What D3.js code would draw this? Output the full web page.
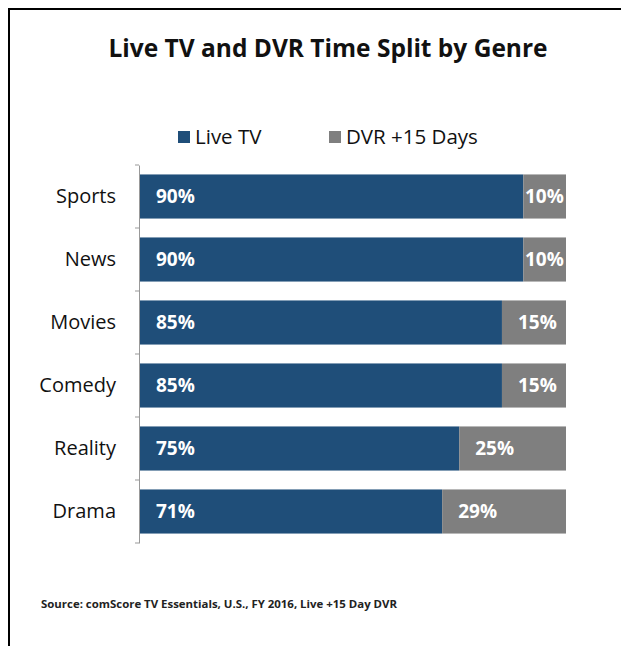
<!DOCTYPE html>
<html>
<head>
<meta charset="utf-8">
<script src="https://cdn.jsdelivr.net/npm/d3@7"></script>
<style>
  body { margin: 0; background: #fff; }
  svg { display: block; font-family: "Open Sans", sans-serif; }
</style>
</head>
<body>
<div id="chart"></div>
<script>
const genres = ["Sports", "News", "Movies", "Comedy", "Reality", "Drama"];
const liveTV = [90, 90, 85, 85, 75, 71];
const dvr15 = [10, 10, 15, 15, 25, 29];
const seriesNames = ["Live TV", "DVR +15 Days"];

const width = 621, height = 646;
const margin = {top: 165, left: 139, right: 55, bottom: 103};
const innerW = width - margin.left - margin.right;
const innerH = height - margin.top - margin.bottom;

const color = d3.scaleOrdinal()
    .domain(["live", "dvr"])
    .range(["#1f4e79", "#7f7f7f"]);

const svg = d3.select("#chart")
    .append("svg")
    .attr("width", width)
    .attr("height", height);

// frame (top and left edges only are visible)
svg.append("path")
    .attr("d", `M9,${height} V9 H${width}`)
    .attr("fill", "none")
    .attr("stroke", "#000")
    .attr("stroke-width", 2);

svg.append("text")
    .attr("x", 328)
    .attr("y", 57)
    .attr("text-anchor", "middle")
    .style("font-size", "24.5px")
    .style("font-weight", "bold")
    .style("fill", "#111")
    .text("Live TV and DVR Time Split by Genre");

const data = genres.map((g, i) => ({genre: g, live: liveTV[i], dvr: dvr15[i]}));

const x = d3.scaleLinear().domain([0, 100]).range([0, innerW]);
const y = d3.scaleBand().domain(genres).range([0, innerH])
    .paddingInner(0.3).paddingOuter(0.15);

const g = svg.append("g")
    .attr("transform", `translate(${margin.left},${margin.top})`);

const stacked = d3.stack().keys(["live", "dvr"])(data);

g.selectAll(".series")
    .data(stacked)
    .enter()
    .append("g")
    .attr("class", "series")
    .attr("fill", d => color(d.key))
    .selectAll("rect")
    .data(d => d)
    .enter()
    .append("rect")
    .attr("x", d => x(d[0]))
    .attr("y", d => y(d.data.genre))
    .attr("width", d => x(d[1]) - x(d[0]))
    .attr("height", y.bandwidth());

// value labels
g.selectAll(".live-label")
    .data(data)
    .enter()
    .append("text")
    .attr("x", 17)
    .attr("y", d => y(d.genre) + y.bandwidth() / 2)
    .attr("dy", "0.35em")
    .style("font-size", "19px")
    .style("font-weight", "bold")
    .style("fill", "#fff")
    .text(d => d.live + "%");

g.selectAll(".dvr-label")
    .data(data)
    .enter()
    .append("text")
    .attr("x", d => x(d.live) + Math.min(16, x(d.dvr) - 41))
    .attr("y", d => y(d.genre) + y.bandwidth() / 2)
    .attr("dy", "0.35em")
    .style("font-size", "19px")
    .style("font-weight", "bold")
    .style("fill", "#fff")
    .text(d => d.dvr + "%");

// category axis
const yAxis = g.append("g")
    .call(d3.axisLeft(y.copy().padding(0)).tickSize(0).tickPadding(23));
yAxis.select(".domain").attr("stroke", "#999");
yAxis.selectAll("text")
    .style("font-size", "20px")
    .style("fill", "#111")
    .style("font-family", "Open Sans, sans-serif");

g.selectAll(".band-tick")
    .data(d3.range(genres.length + 1))
    .enter()
    .append("line")
    .attr("x1", -4)
    .attr("x2", 0)
    .attr("y1", i => i * y.step())
    .attr("y2", i => i * y.step())
    .attr("stroke", "#999");

// legend
const legend = svg.append("g")
    .attr("transform", "translate(178,137)");
const legendOffsets = [0, 151];
const legendItems = legend.selectAll("g")
    .data(seriesNames)
    .enter()
    .append("g")
    .attr("transform", (d, i) => `translate(${legendOffsets[i]},0)`);
legendItems.append("rect")
    .attr("x", 0)
    .attr("y", -6)
    .attr("width", 12)
    .attr("height", 12)
    .attr("fill", (d, i) => color.range()[i]);
legendItems.append("text")
    .attr("x", 17)
    .attr("dy", "0.35em")
    .style("font-size", "20.5px")
    .style("fill", "#111")
    .text(d => d);

svg.append("text")
    .attr("x", 41)
    .attr("y", 608)
    .attr("textLength", 356)
    .attr("lengthAdjust", "spacingAndGlyphs")
    .style("font-size", "10.5px")
    .style("font-weight", "bold")
    .style("fill", "#222")
    .text("Source: comScore TV Essentials, U.S., FY 2016, Live +15 Day DVR");
</script>
</body>
</html>
